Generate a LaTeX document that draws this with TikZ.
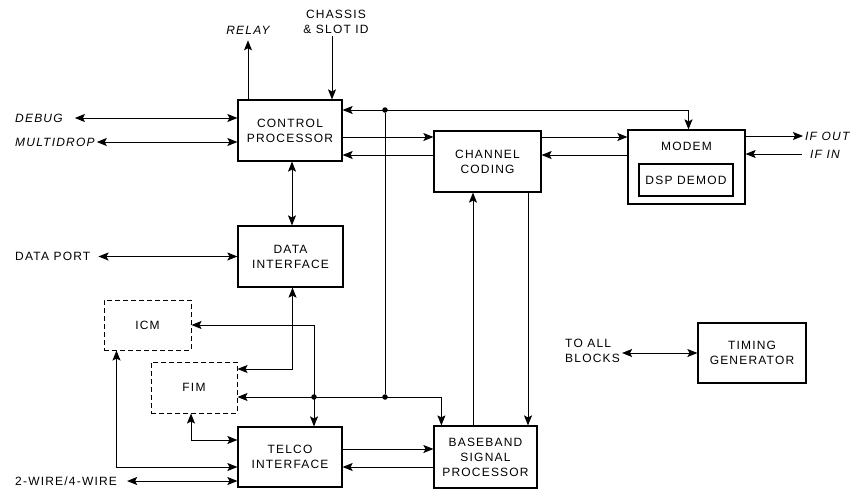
\documentclass[tikz,border=0pt]{standalone}
\usepackage{fontspec}
\setmainfont{Liberation Sans}[LetterSpace=10]
\usepackage{tikz}
\usetikzlibrary{arrows.meta, positioning, calc}

\begin{document}
\begin{tikzpicture}[
  x=1pt, y=-1pt,
  block/.style={draw, line width=1.2pt, align=center, inner sep=0pt, font=\fontsize{12}{15}\selectfont},
  optblock/.style={block, line width=1pt, dash pattern=on 5pt off 3pt},
  txt/.style={font=\fontsize{12}{15}\selectfont, inner sep=2pt, align=left},
  itxt/.style={txt, font=\fontsize{12}{15}\selectfont\itshape},
  wire/.style={line width=1pt},
  conn/.style={wire, -{Stealth[length=10pt, width=8pt, inset=2pt]}},
  dconn/.style={wire, {Stealth[length=10pt, width=8pt, inset=2pt]}-{Stealth[length=10pt, width=8pt, inset=2pt]}},
  joint/.style={circle, fill, inner sep=0pt, minimum size=5.5pt},
]
\useasboundingbox (0,0) rectangle (859,490);

% ブロック
\node[block, minimum width=104pt, minimum height=61pt] (cp) at (290,130.5) {CONTROL\\PROCESSOR};
\node[block, minimum width=105pt, minimum height=61pt] (di) at (290.5,256.5) {DATA\\INTERFACE};
\node[optblock, minimum width=87pt, minimum height=50pt] (icm) at (147.5,325) {ICM};
\node[optblock, minimum width=86pt, minimum height=51pt] (fim) at (194,387.5) {FIM};
\node[block, minimum width=104pt, minimum height=60pt] (telco) at (290,457) {TELCO\\INTERFACE};
\node[block, minimum width=103pt, minimum height=62pt] (bb) at (485.5,457) {BASEBAND\\SIGNAL\\PROCESSOR};
\node[block, minimum width=107pt, minimum height=61pt] (cc) at (487.5,161.5) {CHANNEL\\CODING};
\node[block, minimum width=117pt, minimum height=74pt] (modem) at (686.5,167) {};
\node[txt] (modemlbl) at (686.5,146) {MODEM};
\node[block, minimum width=94pt, minimum height=32pt] (dsp) at (686,180) {DSP DEMOD};
\node[block, minimum width=108pt, minimum height=60pt] (timing) at (752,353) {TIMING\\GENERATOR};

% 外部信号
\node[itxt] (relay) at (248,30) {RELAY};
\node[txt, align=center] (chassis) at (336,22) {CHASSIS\\\& SLOT ID};
\node[itxt, anchor=west] (debug) at (13,118) {DEBUG};
\node[itxt, anchor=west] (multidrop) at (13,142) {MULTIDROP};
\node[txt, anchor=west] (dataport) at (13,256.5) {DATA PORT};
\node[txt, anchor=west] (twowire) at (13,481) {2-WIRE/4-WIRE};
\node[itxt, anchor=west] (ifout) at (803,136) {IF OUT};
\node[itxt, anchor=west] (ifin) at (808,154) {IF IN};
\node[txt, anchor=west] (toall) at (563,351) {TO ALL\\BLOCKS};

\draw[conn] ([xshift=-42pt]cp.north) -- ([yshift=-4pt]relay.south);
\draw[conn] ([xshift=-4pt]chassis.south) -- ([xshift=42pt]cp.north);
\draw[dconn] ([xshift=10pt]debug.east) -- ([yshift=12.5pt]cp.west);
\draw[dconn] (multidrop.east) -- ([yshift=-11.5pt]cp.west);
\draw[dconn] ([xshift=6pt]dataport.east) -- (di.west);
\draw[dconn] ([xshift=8pt]twowire.east) -- ([yshift=-24pt]telco.west);
\draw[conn] ([yshift=31pt]modem.east) -- (ifout.west);
\draw[conn] ([xshift=-6pt]ifin.west) -- ([yshift=13pt]modem.east);
\draw[dconn] (toall.east |- timing.west) -- (timing.west);

% 共通バス
\node[joint] (jt) at (385,110) {};
\node[joint] (jb) at (385,397) {};
\node[joint] (jl) at (314,397) {};
\draw[dconn] (cp.east |- jt) -| ([xshift=2pt]modem.north);
\draw[wire] (jt) -- (jb);
\draw[dconn] (fim.east |- jb) -| ([xshift=8pt]bb.north west);
\draw[dconn] (icm.east) -| ([xshift=24pt]telco.north);

% ブロック間
\draw[dconn] ([xshift=2pt]cp.south) -- ([xshift=1.5pt]di.north);
\draw[dconn] ([yshift=18.5pt]fim.east) -| ([xshift=2pt]di.south);
\draw[dconn] ([xshift=-31pt]icm.south) |- ([yshift=-10pt]telco.west);
\draw[dconn] ([xshift=-3pt]fim.south) |- ([yshift=17pt]telco.west);
\draw[conn] ([yshift=8pt]telco.east) -- ([yshift=8pt]bb.west);
\draw[conn] ([yshift=-10pt]bb.west) -- ([yshift=-10pt]telco.east);
\draw[conn] ([yshift=-6.5pt]cp.east) -- ([yshift=24.5pt]cc.west);
\draw[conn] ([yshift=6.5pt]cc.west) -- ([yshift=-24.5pt]cp.east);
\draw[conn] ([yshift=24.5pt]cc.east) -- ([yshift=30pt]modem.west);
\draw[conn] ([yshift=12pt]modem.west) -- ([yshift=6.5pt]cc.east);
\draw[conn] ([xshift=-12.5pt]bb.north) -- ([xshift=-14.5pt]cc.south);
\draw[conn] ([xshift=40.5pt]cc.south) -- ([xshift=42.5pt]bb.north);

\end{tikzpicture}
\end{document}
